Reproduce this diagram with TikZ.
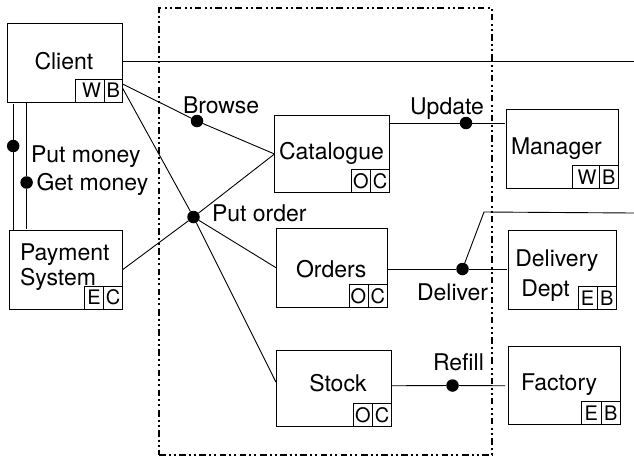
\documentclass[tikz,border=0pt]{standalone}
\usepackage{fontspec}
\setmainfont{TeX Gyre Heros}
\tikzset{
  boxstyle/.style={draw=black,line width=0.9pt,inner sep=0pt,outer sep=0pt},
  tagstyle/.style={boxstyle,font=\fontsize{20}{20}\selectfont},
  txt/.style={inner sep=0pt,outer sep=0pt,anchor=base west,font=\fontsize{23}{23}\selectfont},
  dotstyle/.style={circle,fill=black,draw=none,minimum size=12.5pt,inner sep=0pt,outer sep=0pt},
  conn/.style={draw=black,line width=0.9pt},
  frame/.style={draw=black,line width=1.7pt,inner sep=0pt,outer sep=0pt,
    dash pattern=on 6.5pt off 3pt on 2pt off 3pt on 2pt off 3.7pt}
}
\newcommand{\boxnode}[6][boxstyle]{%
  \node[#1,minimum width={(#5-#3)*1pt},minimum height={(#6-#4)*1pt}] (#2)
    at ({(#3+#5)/2},{(#4+#6)/2}) {};}
\newcommand{\tagnode}[6]{%
  \node[tagstyle,minimum width={(#4-#2)*1pt},minimum height={(#5-#3)*1pt}] (#1)
    at ({(#2+#4)/2},{(#3+#5)/2}) {#6};}
\begin{document}
\begin{tikzpicture}[x=1pt,y=-1pt]
\useasboundingbox (0,0) rectangle (634,459);
\fill[white] (0,0) rectangle (634,459);
\boxnode[frame]{boundary}{159}{8}{492}{455}
% boxes
\boxnode{client}{7.5}{23}{122.5}{102}
\tagnode{clientW}{75}{79}{104}{102}{\hspace{4pt}W}
\tagnode{clientB}{104}{79}{122.5}{102}{B}
\boxnode{payment}{9.5}{230.5}{122.5}{309}
\tagnode{paymentE}{84.5}{286}{103.5}{309}{E}
\tagnode{paymentC}{103.5}{286}{122.5}{309}{C}
\boxnode{catalogue}{274.5}{115.5}{389.5}{192.5}
\tagnode{catalogueO}{351.5}{169.5}{370.5}{192.5}{O}
\tagnode{catalogueC}{370.5}{169.5}{389.5}{192.5}{C}
\boxnode{orders}{276.5}{228.5}{387.5}{307.5}
\tagnode{ordersO}{349}{284.5}{368}{307.5}{O}
\tagnode{ordersC}{368}{284.5}{387.5}{307.5}{C}
\boxnode{stock}{276}{350}{391.5}{426.5}
\tagnode{stockO}{353.5}{403.5}{372.5}{426.5}{O}
\tagnode{stockC}{372.5}{403.5}{391.5}{426.5}{C}
\boxnode{manager}{506.5}{109.5}{618.5}{188}
\tagnode{managerW}{572}{165.5}{599}{188}{\hspace{3pt}W}
\tagnode{managerB}{599}{165.5}{618.5}{188}{B}
\boxnode{delivery}{508.5}{230.5}{616.5}{309}
\tagnode{deliveryE}{578}{286.5}{597}{309}{E}
\tagnode{deliveryB}{597}{286.5}{616.5}{309}{B}
\boxnode{factory}{508.5}{346}{620.5}{424.5}
\tagnode{factoryE}{581.5}{401.5}{601}{424.5}{E}
\tagnode{factoryB}{601}{401.5}{620.5}{424.5}{B}
% dots
\node[dotstyle] (browse) at (197,121) {};
\node[dotstyle] (putmoney) at (13.2,146) {};
\node[dotstyle] (getmoney) at (26.6,182.5) {};
\node[dotstyle] (putorder) at (193.5,217) {};
\node[dotstyle] (update) at (466,123) {};
\node[dotstyle] (deliver) at (462.5,269) {};
\node[dotstyle] (refill) at (452.5,385.5) {};
\coordinate (offA) at (634,61.5);
\coordinate (bend) at (484,212);
\coordinate (offB) at (634,213);
% connectors
\draw[conn] ([yshift=-38.5pt]client.north east) -- (offA);
\draw[conn] ([yshift=-5pt]clientB.north east) -- (browse) -- (catalogue.west);
\draw[conn] ([yshift=-9pt]clientB.north east) -- (putorder) -- ([yshift=6pt]stock.west);
\draw[conn] (payment.east) -- (putorder) -- (catalogue.west);
\draw[conn] (putorder) -- (orders.west);
\draw[conn] ([xshift=5.7pt,yshift=-2pt]client.south west) -- (putmoney) -- ([xshift=3.7pt]payment.north west);
\draw[conn] ([xshift=19.1pt]client.south west) -- (getmoney) -- ([xshift=17.1pt,yshift=2pt]payment.north west);
\draw[conn] ([yshift=-7.5pt]catalogue.north east) -- (update) -- ([xshift=-1.5pt,yshift=-13.5pt]manager.north west);
\draw[conn] ([yshift=-1pt]orders.east) -- (deliver) -- ([xshift=-2pt,yshift=0.75pt]delivery.west);
\draw[conn] (deliver) -- (bend) -- (offB);
\draw[conn] ([yshift=2.5pt]stock.east) -- (refill) -- ([xshift=-3.5pt,yshift=-0.5pt]factory.west);
% labels
\node[txt] (tClient) at (34.5,69) {Client};
\node[txt] (tPayment) at (20,260.5) {Payment};
\node[txt] (tSystem) at (20,285) {System};
\node[txt] (tPutMoney) at (31,162) {Put money};
\node[txt] (tGetMoney) at (36.5,190) {Get money};
\node[txt] (tBrowse) at (183,113.5) {Browse};
\node[txt] (tPutOrder) at (212,221) {Put order};
\node[txt] (tCatalogue) at (279,159) {Catalogue};
\node[txt] (tOrders) at (296,277) {Orders};
\node[txt] (tStock) at (309.3,391.5) {Stock};
\node[txt] (tUpdate) at (410,114) {Update};
\node[txt] (tDeliver) at (417,300) {Deliver};
\node[txt] (tRefill) at (433,370.5) {Refill};
\node[txt] (tManager) at (511,154) {Manager};
\node[txt] (tDelivery) at (515.3,266.5) {Delivery};
\node[txt] (tDept) at (521.3,296) {Dept};
\node[txt] (tFactory) at (521,390) {Factory};
\end{tikzpicture}
\end{document}
